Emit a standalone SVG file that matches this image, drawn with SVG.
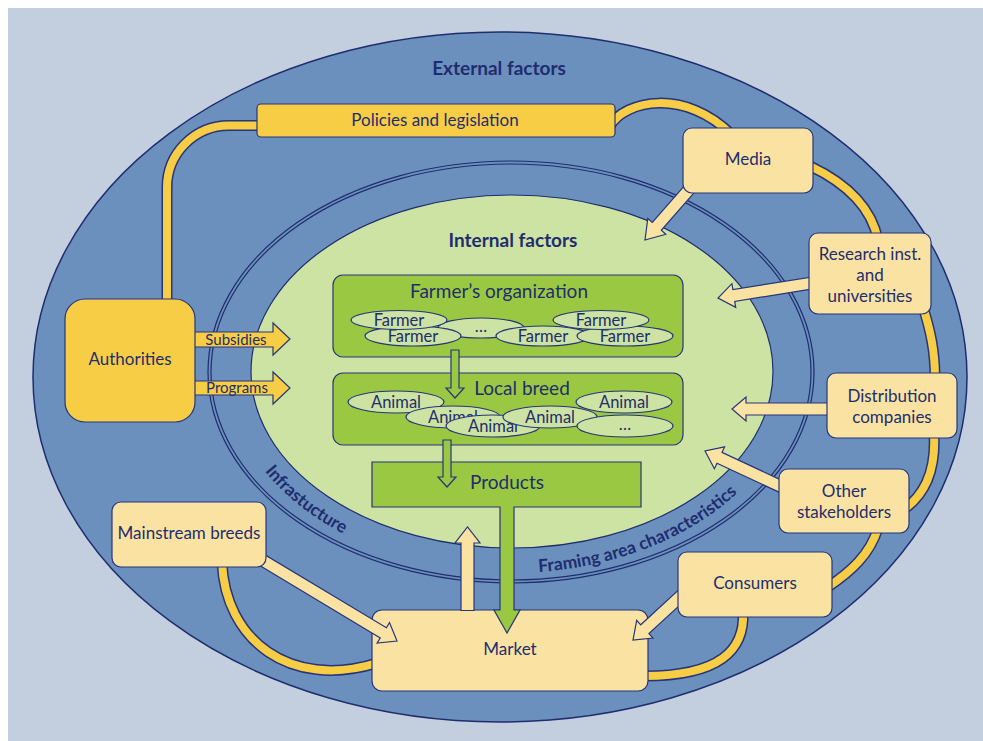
<svg xmlns="http://www.w3.org/2000/svg" width="983" height="741" viewBox="0 0 983 741">
<defs>
<style>
text{font-family:Lato,"Open Sans","Liberation Sans",sans-serif;fill:#1f2d6e;text-anchor:middle}
.b{font-weight:bold}
.ln{fill:none;stroke:#1f2d6e;stroke-width:1.2}
.tubeO{fill:none;stroke:#26357a;stroke-width:11}
.tubeI{fill:none;stroke:#f7cd46;stroke-width:8}
.ya{fill:#f7cd46;stroke:#26357a;stroke-width:1.2}
.la{fill:#fae3a2;stroke:#26357a;stroke-width:1.2}
.gb{fill:#9bc842;stroke:#26357a;stroke-width:1.2}
.el{fill:#cde3a3;stroke:#26357a;stroke-width:1.2}
.t17{font-size:17px}
.t15{font-size:15px}
.e17{font-size:16.5px}
.ring{font-size:17.5px;font-weight:bold;text-anchor:start}
</style>
<path id="arcInf" d="M 263 469 A 285 201 0 0 0 511 573"/>
<path id="arcFr" d="M 531 572.5 A 285 201 0 0 0 778 440"/>
</defs>
<rect x="8" y="8" width="975" height="733" fill="#c3cfdf"/>
<g id="external">
<ellipse cx="500" cy="377" rx="467" ry="345" fill="#6b90be" stroke="#1f2d6e" stroke-width="1.5"/>
<text class="b" x="499" y="75" font-size="19">External factors</text>
</g>
<g id="framing-ring">
<ellipse cx="511" cy="372" rx="303" ry="211" class="ln" fill="#6b90be"/>
<ellipse cx="511" cy="372" rx="300" ry="208" class="ln"/>
</g>
<g id="internal">
<ellipse cx="512" cy="371.5" rx="261" ry="176.5" fill="#cde3a3" stroke="#1f2d6e" stroke-width="1.2"/>
<text class="b" x="513" y="247" font-size="19">Internal factors</text>
</g>
<g id="ring-labels">
<text class="ring"><textPath href="#arcInf" startOffset="3">Infrastucture</textPath></text>
<text class="ring"><textPath href="#arcFr" startOffset="8">Framing area characteristics</textPath></text>
</g>
<g id="tubes">
<path class="tubeO" d="M 259 125.5 H 229 A 62 62 0 0 0 167 187.5 V 302"/>
<path class="tubeI" d="M 259 125.5 H 229 A 62 62 0 0 0 167 187.5 V 302"/>
<path class="tubeO" d="M 610 126 C 625 100, 685 88, 732 135"/>
<path class="tubeI" d="M 610 126 C 625 100, 685 88, 732 135"/>
<path class="tubeO" d="M 810 166 C 850 185, 872 210, 878 240"/>
<path class="tubeI" d="M 810 166 C 850 185, 872 210, 878 240"/>
<path class="tubeO" d="M 924 310 C 930 330, 935 350, 935 378"/>
<path class="tubeI" d="M 924 310 C 930 330, 935 350, 935 378"/>
<path class="tubeO" d="M 934 434 C 936 470, 925 495, 903 510"/>
<path class="tubeI" d="M 934 434 C 936 470, 925 495, 903 510"/>
<path class="tubeO" d="M 878 528 C 870 555, 850 572, 828 587"/>
<path class="tubeI" d="M 878 528 C 870 555, 850 572, 828 587"/>
<path class="tubeO" d="M 743 612 C 745 650, 720 676, 644 676"/>
<path class="tubeI" d="M 743 612 C 745 650, 720 676, 644 676"/>
<path class="tubeO" d="M 222 562 C 225 640, 290 690, 377 663"/>
<path class="tubeI" d="M 222 562 C 225 640, 290 690, 377 663"/>
</g>
<g id="market">
<rect x="372" y="610" width="276" height="81" rx="10" class="la"/>
<text class="t17" x="510" y="655">Market</text>
</g>
<g id="arrows">
<polygon class="la" points="697.5,188.9 661.3,230.3 665.8,234.3 645,240 647.8,218.5 652.3,222.5 688.5,181.1"/>
<polygon class="la" points="812.9,288.9 734.7,301.4 735.7,307.3 718,298 731.9,283.7 732.9,289.6 811.1,277.1"/>
<polygon class="la" points="830,403 746,403 746,397 732,409 746,421 746,415 830,415"/>
<polygon class="la" points="779.5,492.4 717,463.2 714.4,468.7 705,451 724.6,446.9 722,452.4 784.5,481.6"/>
<polygon class="la" points="686.1,599.4 648.9,633.6 652.9,638 633,640 636.7,620.4 640.7,624.8 677.9,590.6"/>
<polygon class="la" points="258.9,565.1 380.2,638 377.1,643.1 397,641 389.5,622.5 386.4,627.7 265.1,554.9"/>
<polygon class="la" points="461,610.5 461,543 455,543 467.5,527 480,543 474,543 474,610.5"/>
<polygon class="ya" points="193,332 273,332 273,323 290,339 273,355 273,347 193,347"/>
<polygon class="ya" points="193,381 273,381 273,372 290,388 273,404 273,395 193,395"/>
<text class="t15" x="236" y="345">Subsidies</text>
<text class="t15" x="237" y="393">Programs</text>
</g>
<g id="policies">
<rect x="257" y="104" width="358" height="33" rx="4" class="ya"/>
<text class="t17" x="435" y="125.5">Policies and legislation</text>
</g>
<g id="authorities">
<rect x="65" y="299" width="130" height="123" rx="20" class="ya"/>
<text class="t17" x="130" y="365">Authorities</text>
</g>
<g id="media">
<rect x="683" y="128" width="130" height="65" rx="9" class="la"/>
<text class="t17" x="748" y="165">Media</text>
</g>
<g id="research">
<rect x="809" y="233" width="122" height="81" rx="9" class="la"/>
<text class="t17" x="870" y="260">Research inst.</text>
<text class="t17" x="870" y="281">and</text>
<text class="t17" x="870" y="302">universities</text>
</g>
<g id="distribution">
<rect x="827" y="373" width="130" height="65" rx="9" class="la"/>
<text class="t17" x="892" y="402">Distribution</text>
<text class="t17" x="892" y="423">companies</text>
</g>
<g id="other">
<rect x="779" y="469" width="130" height="64" rx="9" class="la"/>
<text class="t17" x="844" y="497">Other</text>
<text class="t17" x="844" y="518">stakeholders</text>
</g>
<g id="consumers">
<rect x="678" y="552" width="154" height="65" rx="9" class="la"/>
<text class="t17" x="755" y="589">Consumers</text>
</g>
<g id="mainstream">
<rect x="112" y="502" width="154" height="65" rx="9" class="la"/>
<text class="t17" x="189" y="539">Mainstream breeds</text>
</g>
<g id="farmers-organization">
<rect x="333" y="275" width="350" height="82" rx="10" class="gb"/>
<text x="499" y="298" font-size="19">Farmer’s organization</text>
<ellipse cx="481" cy="328" rx="43" ry="10" class="el"/><text class="e17" x="481" y="332">…</text>
<ellipse cx="413" cy="336" rx="48" ry="10" class="el"/><text class="e17" x="413" y="342">Farmer</text>
<ellipse cx="399" cy="320" rx="48" ry="9.5" class="el"/><text class="e17" x="399" y="326">Farmer</text>
<ellipse cx="543" cy="336" rx="47" ry="10" class="el"/><text class="e17" x="543" y="342">Farmer</text>
<ellipse cx="625" cy="336" rx="48" ry="10" class="el"/><text class="e17" x="625" y="342">Farmer</text>
<ellipse cx="601" cy="320" rx="48" ry="9.5" class="el"/><text class="e17" x="601" y="326">Farmer</text>
</g>
<g id="local-breed">
<rect x="333" y="373" width="350" height="72" rx="10" class="gb"/>
<text x="522" y="395" font-size="19">Local breed</text>
<ellipse cx="396" cy="402" rx="48" ry="11" class="el"/><text class="e17" x="396" y="408">Animal</text>
<ellipse cx="453" cy="417" rx="47" ry="11" class="el"/><text class="e17" x="453" y="423">Animal</text>
<ellipse cx="493" cy="426" rx="47" ry="11" class="el"/><text class="e17" x="493" y="432">Animal</text>
<ellipse cx="550" cy="417" rx="47" ry="11" class="el"/><text class="e17" x="550" y="423">Animal</text>
<ellipse cx="624" cy="402" rx="48" ry="11" class="el"/><text class="e17" x="624" y="408">Animal</text>
<ellipse cx="625" cy="426" rx="48" ry="11" class="el"/><text class="e17" x="625" y="430">…</text>
</g>
<g id="products">
<polygon class="gb" points="372,462 641,462 641,507 514,507 514,610 520,610 507,633 494,610 500,610 500,507 372,507"/>
<text x="507" y="489" font-size="19">Products</text>
</g>
<g id="flow-arrows">
<polygon class="gb" points="451,350 459,350 459,388 464,388 455,398 446,388 451,388"/>
<polygon class="gb" points="443,440 451,440 451,477 456,477 447,487 438,477 443,477"/>
</g>
</svg>
